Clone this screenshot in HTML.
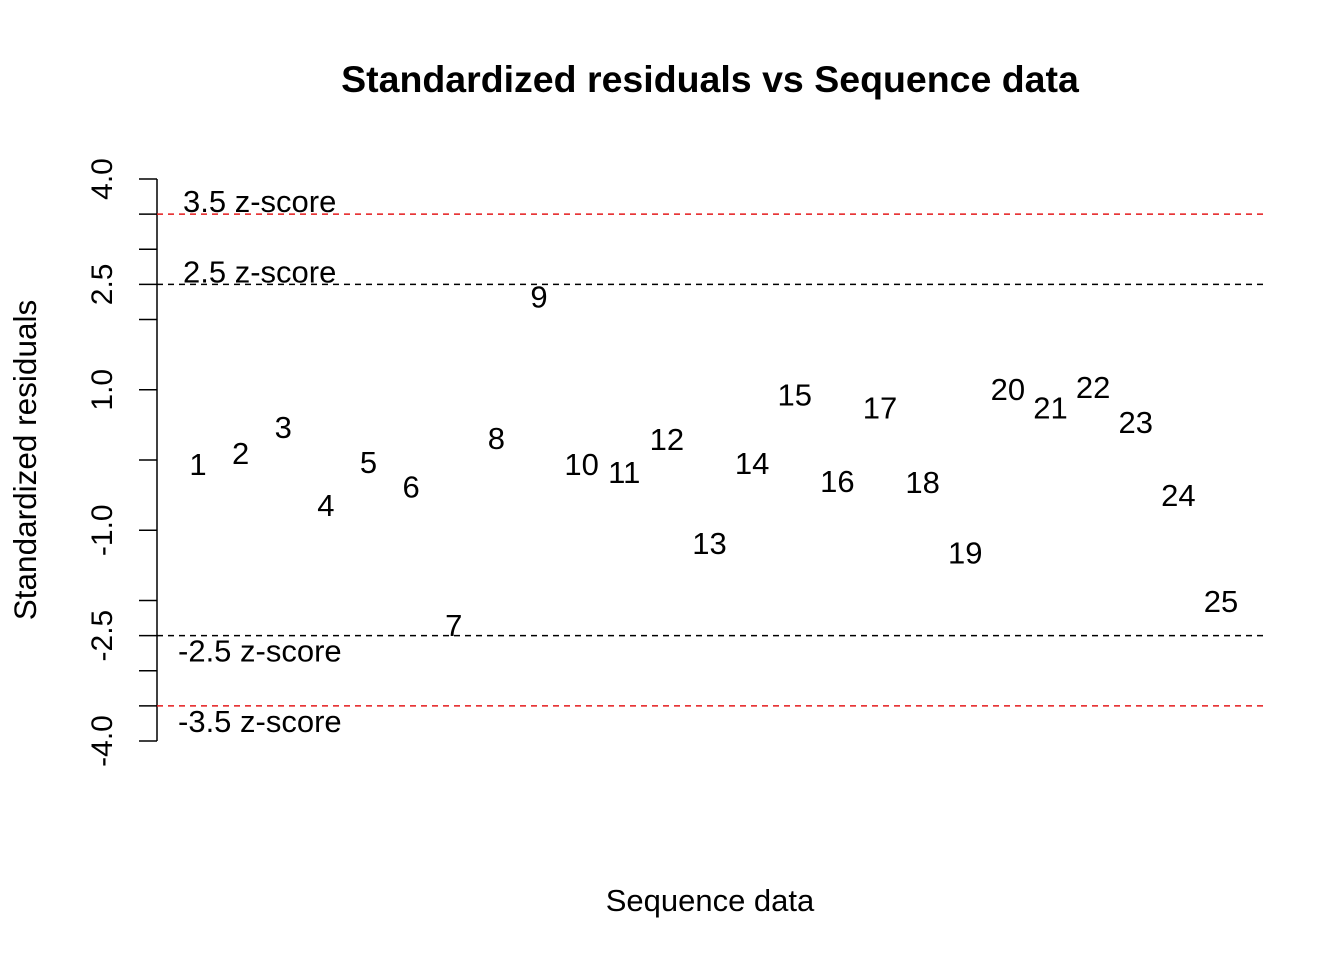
<!DOCTYPE html>
<html><head><meta charset="utf-8"><style>
body{margin:0;background:#fff;}
svg text{font-family:"Liberation Sans",Arial,sans-serif;fill:#000;}
</style></head><body>
<svg id="chart" width="1344" height="960" xmlns="http://www.w3.org/2000/svg">
<text x="710" y="92" text-anchor="middle" font-size="37.5" font-weight="bold">Standardized residuals vs Sequence data</text>
<text x="710" y="911" text-anchor="middle" font-size="31">Sequence data</text>
<text transform="translate(36,460) rotate(-90)" text-anchor="middle" font-size="31.5">Standardized residuals</text>
<g id="axis"></g>
<g id="refs"></g>
<g id="pts"></g>
</svg>
<script>
const residuals=[-0.06,0.10,0.47,-0.64,-0.03,-0.38,-2.35,0.31,2.33,-0.06,-0.17,0.30,-1.18,-0.04,0.93,-0.30,0.75,-0.31,-1.32,1.01,0.75,1.04,0.54,-0.50,-2.01];
const tickValues=[4,3.5,3,2.5,2,1,0,-1,-2,-2.5,-3,-3.5,-4];
const tickLabels=["4.0","2.5","1.0","-1.0","-2.5","-4.0"];
const refValues=[3.5,2.5,-2.5,-3.5];
const refLabels=["3.5 z-score","2.5 z-score","-2.5 z-score","-3.5 z-score"];
const NS="http://www.w3.org/2000/svg";
function y(v){return 179+(4-v)*70.25;}
function x(i){return 198+(i-1)*(1221-198)/(residuals.length-1);}
function mk(tag,attrs,parent){const e=document.createElementNS(NS,tag);for(const k in attrs)e.setAttribute(k,attrs[k]);parent.appendChild(e);return e;}
const ax=document.getElementById('axis');
const l=mk('line',{x1:157,x2:157,y1:y(4),y2:y(-4),stroke:'#000','stroke-width':1.5},ax);


tickValues.forEach(v=>{const t=mk('line',{x1:139,x2:157,y1:y(v),y2:y(v),stroke:'#000','stroke-width':1.5},ax);

});
tickLabels.forEach(s=>{const v=parseFloat(s);const t=mk('text',{transform:`translate(112,${y(v)}) rotate(-90)`,'text-anchor':'middle','font-size':30},ax);t.textContent=s;

});
const rf=document.getElementById('refs');
refValues.forEach((v,i)=>{const red=Math.abs(v)>3;
const ln=mk('line',{x1:157,x2:1265,y1:y(v),y2:y(v),stroke:red?'#e41a1c':'#000','stroke-width':1.5,'stroke-dasharray':'6,5'},rf);


const t=mk('text',{x:v>0?183:178,y:y(v)-2+(v>0?0:28),'font-size':31},rf);t.textContent=refLabels[i];

});
const pg=document.getElementById('pts');
residuals.forEach((v,i)=>{const t=mk('text',{x:x(i+1),y:y(v)+11,'text-anchor':'middle','font-size':31},pg);t.textContent=String(i+1);

});
</script>
</body></html>
